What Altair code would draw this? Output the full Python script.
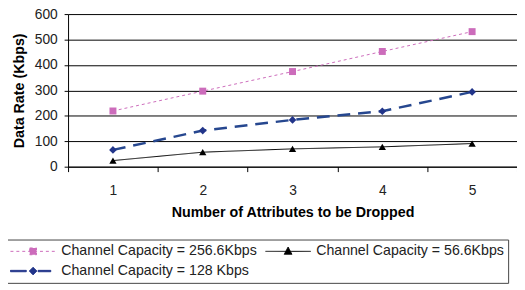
import altair as alt
import pandas as pd

attributes = [1, 2, 3, 4, 5]
series_names = ["Channel Capacity = 256.6Kbps", "Channel Capacity = 56.6Kbps", "Channel Capacity = 128 Kbps"]
rate_256 = [219, 297, 374, 453, 531]
rate_56 = [24, 57, 70, 78, 91]
rate_128 = [66, 142, 184, 218, 294]
y_ticks = [0, 100, 200, 300, 400, 500, 600]

colors = ["#CC6CBB", "#000000", "#26478F"]
marker_colors = ["#CC6CBB", "#000000", "#22358A"]
dashes = [[3, 3], [1, 0], [13, 8]]
legend_dashes = [[3, 3], [1, 0], [1, 0]]
widths = [1, 1, 2.5]
markers = ["square", "triangle-up", "diamond"]
marker_sizes = [50, 55, 60]
legend_paths = [
    "M-1,0L1,0M-0.15,-0.15L0.15,-0.15L0.15,0.15L-0.15,0.15Z",
    "M-1,0L1,0M0,-0.19L0.17,0.13L-0.17,0.13Z",
    "M-1,-0.03L-0.3,-0.03L-0.3,0.03L-1,0.03Z"
    "M0,-0.17L0.17,0L0,0.17L-0.17,0Z"
    "M0.22,-0.03L0.78,-0.03L0.78,0.03L0.22,0.03Z",
]

rows = []
for name, vals in zip(series_names, [rate_256, rate_56, rate_128]):
    for a, v in zip(attributes, vals):
        rows.append({"attr": str(a), "rate": v, "series": name})
df = pd.DataFrame(rows)

FONT = "Liberation Sans"

x_enc = alt.X(
    "attr:O",
    scale=alt.Scale(type="band", paddingInner=0, paddingOuter=0),
    axis=alt.Axis(
        title="Number of Attributes to be Dropped",
        labelAngle=0,
        tickBand="extent",
        tickSize=5,
        labelPadding=12,
        titlePadding=9,
        grid=False,
    ),
)
y_enc = alt.Y(
    "rate:Q",
    scale=alt.Scale(domain=[0, 600], nice=False),
    axis=alt.Axis(
        title="Data Rate (Kbps)",
        values=y_ticks,
        tickSize=4,
        labelPadding=7,
        titlePadding=8,
        grid=True,
    ),
)

base = alt.Chart(df)

layers = []
for i, name in enumerate(series_names):
    sub = base.transform_filter(alt.datum.series == name)
    layers.append(
        sub.mark_line(
            color=colors[i], strokeDash=dashes[i], strokeWidth=widths[i]
        ).encode(x=x_enc, y=y_enc)
    )
for i, name in enumerate(series_names):
    sub = base.transform_filter(alt.datum.series == name)
    layers.append(
        sub.mark_point(
            shape=markers[i], filled=True, color=marker_colors[i],
            size=marker_sizes[i], opacity=1
        ).encode(x=x_enc, y=y_enc)
    )

legend = alt.Legend(
    title=None,
    orient="none",
    direction="horizontal",
    legendX=-63,
    legendY=229,
    columns=2,
    columnPadding=8,
    rowPadding=4,
    padding=4,
    clipHeight=16,
    symbolSize=2116,
    symbolOpacity=1,
    symbolStrokeWidth=1,
    labelOffset=5,
    labelLimit=400,
    labelFont=FONT,
    labelFontSize=14.4,
    labelColor="#222222",
    strokeColor="#444444",
    fillColor="white",
)

sc = alt.Scale(domain=series_names, range=marker_colors)
legend_layer = base.mark_point(filled=True, opacity=0).encode(
    x=x_enc,
    y=y_enc,
    fill=alt.Fill("series:N", scale=sc, legend=legend),
    stroke=alt.Stroke("series:N", scale=sc, legend=legend),
    shape=alt.Shape("series:N", scale=alt.Scale(domain=series_names, range=legend_paths), legend=legend),
    strokeDash=alt.StrokeDash("series:N", scale=alt.Scale(domain=series_names, range=legend_dashes), legend=legend),
)

chart = (
    alt.layer(*layers, legend_layer)
    .properties(
        width=456,
        height=155,
        padding={"left": 61, "top": 4, "right": 0, "bottom": 118},
        autosize=alt.AutoSizeParams(type="none"),
        background="white",
    )
    .configure_view(stroke="transparent")
    .configure_axis(
        domainColor="#000000",
        tickColor="#000000",
        gridColor="#000000",
        gridWidth=1,
        labelFont=FONT,
        labelFontSize=14,
        labelColor="#222222",
        titleFont=FONT,
        titleFontSize=14.5,
        titleFontWeight="bold",
        titleColor="#000000",
    )
)

chart.save("out.html", embed_options={"renderer": "svg", "actions": False})
